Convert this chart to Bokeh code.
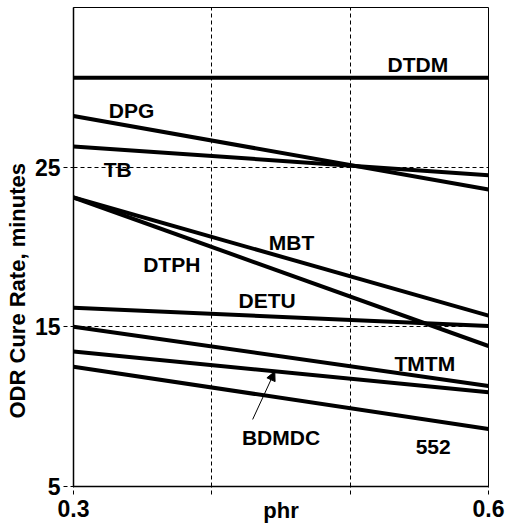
from bokeh.plotting import figure
from bokeh.models import Range1d, FixedTicker, Arrow, NormalHead, ColumnDataSource, Title
from bokeh.core.properties import value
from bokeh.embed import file_html
from bokeh.resources import INLINE

# Accelerator dosage (phr) at the two ends of each line
phr = [0.3, 0.6]

# ODR cure rate (minutes) at 0.3 and 0.6 phr for each accelerator
dtdm = [30.6, 30.6]
dpg = [28.2, 23.6]
tb = [26.3, 24.5]
mbt = [23.1, 15.7]
dtph = [23.1, 13.8]
detu = [16.2, 15.05]
tmtm = [15.0, 11.3]
bdmdc = [13.45, 10.9]
s552 = [12.5, 8.6]

series = [dtdm, dpg, tb, mbt, dtph, detu, tmtm, bdmdc, s552]

# Series labels and where they sit
label_text = ["DTDM", "DPG", "TB", "MBT", "DTPH", "DETU", "TMTM", "BDMDC", "552"]
label_x = [0.549, 0.342, 0.332, 0.4576, 0.371, 0.440, 0.554, 0.450, 0.560]
label_y = [31.46, 28.57, 24.86, 20.26, 18.88, 16.68, 12.72, 8.06, 7.50]

y_ticks = [5, 15, 25]
x_ticks = [0.3, 0.4, 0.5, 0.6]
x_tick_labels = {0.3: "0.3", 0.4: "", 0.5: "", 0.6: "0.6"}

FONT = "Liberation Sans"
FS = "21px"
TICK_FS = "23px"
TITLE_FS = "22px"

p = figure(width=505, height=530, output_backend="svg", toolbar_location=None,
           x_range=Range1d(0.3, 0.6), y_range=Range1d(5, 35),
           min_border_left=71, min_border_right=17, min_border_top=7,
           min_border_bottom=44)
p.background_fill_color = "white"
p.border_fill_color = "white"
p.outline_line_color = "black"
p.outline_line_width = 1

# grid: dashed reference lines
p.xgrid.ticker = FixedTicker(ticks=[0.4, 0.5])
p.ygrid.ticker = FixedTicker(ticks=[15, 25])
for g in (p.xgrid[0], p.ygrid[0]):
    g.grid_line_color = "black"
    g.grid_line_dash = "4 3"
    g.grid_line_width = 1

# axes
p.xaxis.ticker = FixedTicker(ticks=x_ticks)
p.xaxis.major_label_overrides = x_tick_labels
p.yaxis.ticker = FixedTicker(ticks=y_ticks)
for ax in (p.xaxis[0], p.yaxis[0]):
    ax.axis_line_color = "black"
    ax.axis_line_width = 1.5
    ax.major_tick_line_color = "black"
    ax.major_tick_line_dash = "4 3"
    ax.major_tick_in = 0
    ax.minor_tick_line_color = None
    ax.major_label_text_font = FONT
    ax.major_label_text_font_style = "bold"
    ax.major_label_text_font_size = TICK_FS
    ax.major_label_text_color = "black"
    ax.axis_label_text_font = FONT
    ax.axis_label_text_font_style = "bold"
    ax.axis_label_text_font_size = TITLE_FS
    ax.axis_label_text_color = "black"

p.xaxis.major_tick_out = 8
p.xaxis.major_label_standoff = 5
p.xaxis.axis_label = "phr"
p.xaxis.axis_label_standoff = -22

p.yaxis.major_tick_out = 10
p.yaxis.major_label_standoff = 3

# y-axis title, sitting a little below the middle of the axis
p.add_layout(Title(text="ODR Cure Rate, minutes", align="left", offset=68,
                   standoff=4, text_font=FONT, text_font_style="bold",
                   text_font_size=TITLE_FS, text_color="black"), "left")

# accelerator lines
for ys in series:
    p.line(phr, ys, line_color="black", line_width=4)

# series labels
src = ColumnDataSource(dict(x=label_x, y=label_y, t=label_text))
p.text(x="x", y="y", text="t", source=src, text_align="center",
       text_baseline="middle", text_font=value(FONT), text_font_style="bold",
       text_font_size=FS, text_color="black")

# pointer from the BDMDC label to its line
p.add_layout(Arrow(end=NormalHead(size=9, fill_color="black", line_color="black"),
                   x_start=0.4295, y_start=9.2, x_end=0.4455, y_end=12.2,
                   line_color="black", line_width=1))

open("out.html", "w").write(file_html(p, INLINE))
